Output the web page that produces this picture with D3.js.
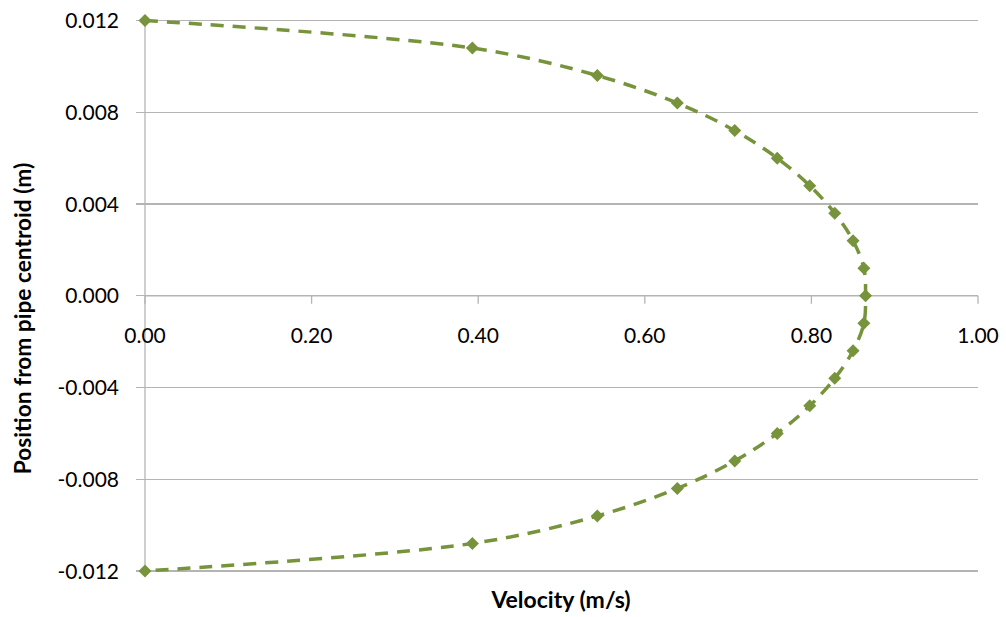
<!DOCTYPE html>
<html><head><meta charset="utf-8">
<script src="https://cdn.jsdelivr.net/npm/d3@7"></script>
<style>body{margin:0;background:#fff}svg{display:block}</style>
</head><body>
<svg id="c" width="1006" height="617"></svg>
<script>
const positions = [0.012,0.0108,0.0096,0.0084,0.0072,0.006,0.0048,0.0036,0.0024,0.0012,0,-0.0012,-0.0024,-0.0036,-0.0048,-0.006,-0.0072,-0.0084,-0.0096,-0.0108,-0.012];
const velocities = [0,0.393,0.543,0.639,0.708,0.759,0.798,0.828,0.850,0.863,0.865,0.863,0.850,0.828,0.798,0.759,0.708,0.639,0.543,0.393,0];
const xTicks = [0,0.2,0.4,0.6,0.8,1.0];
const yTicks = [-0.012,-0.008,-0.004,0,0.004,0.008,0.012];
const xTitle = "Velocity (m/s)";
const yTitle = "Position from pipe centroid (m)";

const svg = d3.select("#c");
const L = 145, R = 978, T = 20.5, B = 571;
const x = d3.scaleLinear().domain([0,1]).range([L,R]);
const y = d3.scaleLinear().domain([-0.012,0.012]).range([B,T]);
const grid = "#b4b4b4";
const font = "Lato, 'Open Sans', sans-serif";

svg.append("g").selectAll("line").data(yTicks).join("line")
  .attr("x1",L-9).attr("x2",R).attr("y1",d=>y(d)).attr("y2",d=>y(d))
  .attr("stroke",grid).attr("stroke-width",1.3).attr("shape-rendering","crispEdges");

svg.append("line").attr("x1",L).attr("x2",L).attr("y1",T).attr("y2",B)
  .attr("stroke",grid).attr("stroke-width",1.3);
svg.append("line").attr("x1",L).attr("x2",R).attr("y1",y(0)).attr("y2",y(0))
  .attr("stroke",grid).attr("stroke-width",1.3);
svg.append("g").selectAll("line").data(xTicks).join("line")
  .attr("x1",d=>x(d)).attr("x2",d=>x(d)).attr("y1",y(0)).attr("y2",y(0)+8)
  .attr("stroke",grid).attr("stroke-width",1.3);

svg.append("g").selectAll("text").data(yTicks).join("text")
  .attr("x",L-26).attr("y",d=>y(d)).attr("dy","0.36em")
  .attr("text-anchor","end").attr("font-family",font).attr("font-size",21)
  .attr("fill","#000").text(d=>d3.format(".3f")(d).replace("−","-"));
svg.append("g").selectAll("text").data(xTicks).join("text")
  .attr("x",d=>x(d)).attr("y",y(0)+47)
  .attr("text-anchor","middle").attr("font-family",font).attr("font-size",21)
  .attr("fill","#000").text(d=>d3.format(".2f")(d));

svg.append("text").attr("x",561).attr("y",608).attr("text-anchor","middle")
  .attr("font-family",font).attr("font-weight","bold").attr("font-size",23).text(xTitle);
svg.append("text").attr("transform","translate(31,318.5) rotate(-90)").attr("text-anchor","middle")
  .attr("font-family",font).attr("font-weight","bold").attr("font-size",22.7).text(yTitle);

const data = positions.map((p,i)=>({p, v: velocities[i]}));
const color = "#77933c";
const line = d3.line().x(d=>x(d.v)).y(d=>y(d.p)).curve(d3.curveCatmullRom.alpha(0.5));
svg.append("path").datum(data).attr("d",line).attr("fill","none")
  .attr("stroke",color).attr("stroke-width",3.5).attr("stroke-dasharray","13,9");
svg.append("g").selectAll("path").data(data).join("path")
  .attr("transform",d=>`translate(${x(d.v)},${y(d.p)})`)
  .attr("d","M0,-6.5L6.5,0L0,6.5L-6.5,0Z").attr("fill",color);
</script>
</body></html>
